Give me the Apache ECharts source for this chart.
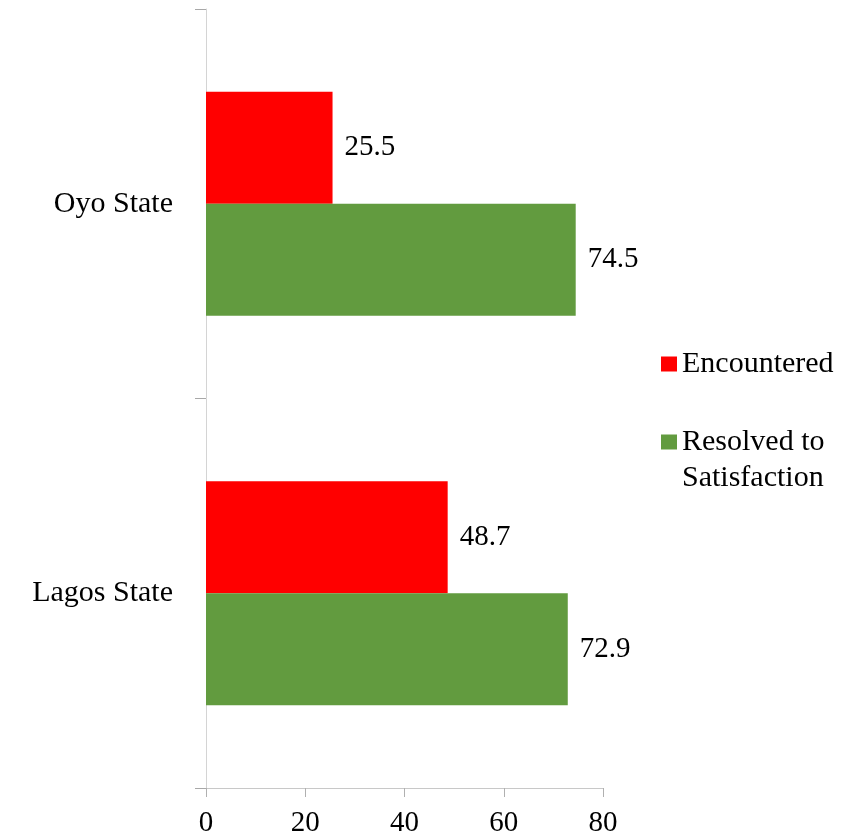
<!DOCTYPE html>
<html>
<head>
<meta charset="utf-8">
<title>Encountered vs Resolved to Satisfaction</title>
<script src="https://cdn.jsdelivr.net/npm/echarts@6/dist/echarts.min.js"></script>
<style>
  html, body { margin: 0; padding: 0; background: #ffffff; }
  #chart { width: 863px; height: 835px; }
</style>
</head>
<body>
<div id="chart"></div>
<script>
// Categories, top to bottom
const states = ['Oyo State', 'Lagos State'];
// Percentages per state
const encountered = [25.5, 48.7];
const resolved = [74.5, 72.9];
// Value axis ticks
const xTicks = { min: 0, max: 80, interval: 20 };

const FONT = "'Liberation Serif', 'Times New Roman', serif";
const RED = '#FF0000';
const GREEN = '#629B3F';

const chart = echarts.init(document.getElementById('chart'), null, { renderer: 'canvas' });

const valueLabel = {
  show: true,
  position: 'right',
  distance: 12,
  color: '#000',
  fontFamily: FONT,
  fontSize: 29
};

const legendText = { fontFamily: FONT, fontSize: 30, color: '#000', lineHeight: 36 };

chart.setOption({
  animation: false,
  backgroundColor: '#ffffff',
  grid: {
    left: 206, top: 9, right: 260, bottom: 47,
    containLabel: false,
    outerBoundsMode: 'none'
  },
  legend: [
    {
      data: ['Encountered'],
      orient: 'vertical',
      left: 656,
      top: 341,
      itemWidth: 16,
      itemHeight: 15,
      icon: 'rect',
      textStyle: legendText
    },
    {
      // empty first line keeps the marker level with "Resolved to"
      data: ['Resolved to Satisfaction'],
      orient: 'vertical',
      left: 656,
      top: 383,
      itemWidth: 16,
      itemHeight: 15,
      icon: 'rect',
      formatter: () => '\nResolved to\nSatisfaction',
      textStyle: legendText
    }
  ],
  xAxis: {
    type: 'value',
    min: xTicks.min,
    max: xTicks.max,
    interval: xTicks.interval,
    axisLine: { show: true, lineStyle: { color: '#c8c8c8', width: 1 } },
    axisTick: { show: true, length: 9, lineStyle: { color: '#b0b0b0' } },
    axisLabel: { color: '#000', fontFamily: FONT, fontSize: 29, margin: 21 },
    splitLine: { show: false }
  },
  yAxis: {
    type: 'category',
    data: states,
    inverse: true,
    axisLine: { show: true, lineStyle: { color: '#d4d4d4', width: 1 } },
    axisTick: { show: true, length: 11, lineStyle: { color: '#a8a8a8' } },
    axisLabel: { color: '#000', fontFamily: FONT, fontSize: 30, margin: 33 },
    splitLine: { show: false }
  },
  series: [
    {
      name: 'Encountered',
      type: 'bar',
      data: encountered,
      itemStyle: { color: RED },
      barGap: '0%',
      barCategoryGap: '42.5%',
      label: valueLabel
    },
    {
      name: 'Resolved to Satisfaction',
      type: 'bar',
      data: resolved,
      itemStyle: { color: GREEN },
      barGap: '0%',
      barCategoryGap: '42.5%',
      label: valueLabel
    }
  ]
});
</script>
</body>
</html>
